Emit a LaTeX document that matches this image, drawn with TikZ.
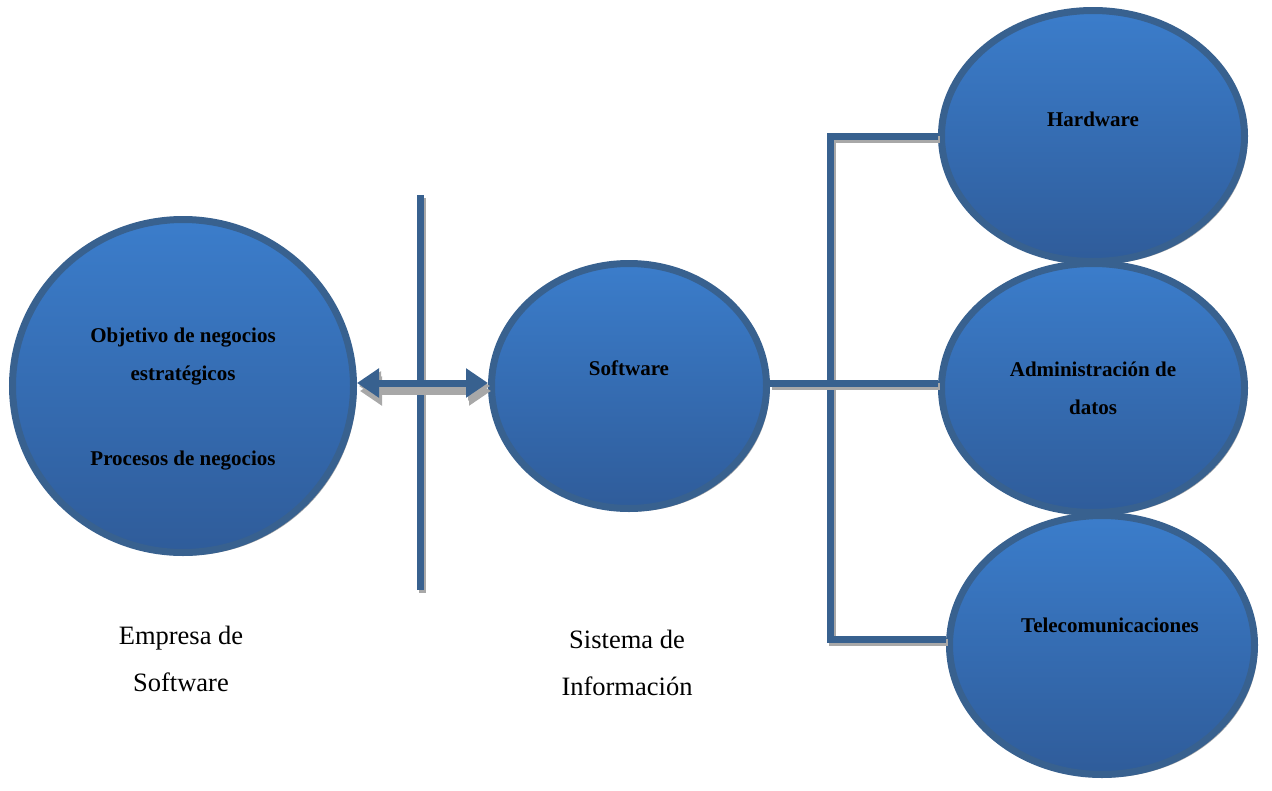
\documentclass[tikz,border=0pt]{standalone}
\usepackage{fontspec}
\setmainfont{Liberation Serif}
\usetikzlibrary{shapes.geometric,shadows,arrows.meta,calc}
\definecolor{topblue}{HTML}{3B7DCB}
\definecolor{botblue}{HTML}{2F5C9A}
\definecolor{edgeblue}{HTML}{38618F}
\definecolor{shadowgray}{HTML}{A8A8A8}
\tikzset{
  bubble/.style={ellipse, draw=edgeblue, line width=7pt, top color=topblue, bottom color=botblue,
    drop shadow={shadow xshift=3pt, shadow yshift=-3pt, fill=shadowgray, opacity=1}, inner sep=0pt},
  btxt/.style={font=\bfseries\fontsize{21}{38}\selectfont, align=center, text=black},
  rtxt/.style={font=\fontsize{26.5}{47}\selectfont, align=center, text=black},
  conn/.style={draw=edgeblue, line width=7pt, line join=miter,
    preaction={draw=shadowgray, line width=7pt, transform canvas={shift={(2,3)}}}},
}
\begin{document}
\begin{tikzpicture}[x=1pt,y=-1pt]
\useasboundingbox (0,0) rectangle (1272,790);
% bubbles
\node[bubble, minimum width=341pt, minimum height=333pt] (L) at (183,386) {};
\node[bubble, minimum width=275pt, minimum height=245pt] (S) at (629,386) {};
\node[bubble, minimum width=303pt, minimum height=251pt] (H) at (1093,136) {};
\node[bubble, minimum width=303pt, minimum height=249pt] (A) at (1093,388) {};
\node[bubble, minimum width=305pt, minimum height=259pt] (T) at (1102,645) {};
% texts
\node[btxt] (Lt1) at (183,357) {Objetivo de negocios\\estratégicos};
\node[btxt] (Lt2) at (183,461) {Procesos de negocios};
\node[btxt] (St) at ([yshift=18pt]S.center) {Software};
\node[btxt] (Ht) at ([yshift=17pt]H.center) {Hardware};
\node[btxt] (At) at (A.center) {Administración de\\datos};
\node[btxt] (Tt) at ([xshift=8pt,yshift=20pt]T.center) {Telecomunicaciones};
\node[rtxt] (E) at (181,659) {Empresa de\\Software};
\node[rtxt] (SI) at (627,663) {Sistema de\\Información};
% divider
\coordinate (vt) at (420,195);
\coordinate (vb) at (420,590);
\draw[conn] (vt) -- (vb);
% double arrow
\draw[conn, line width=7pt, {Triangle[length=22pt,width=28pt]}-{Triangle[length=22pt,width=28pt]},
  preaction={draw=shadowgray, line width=7pt, transform canvas={shift={(3,8)}}}] (L.east |- 0,383) -- (S.west |- 0,383);
% bracket
\coordinate (bt) at (830,136);
\coordinate (bb) at (830,639);
\draw[conn] (H.west) -| (bb) -- (T.west |- bb);
\draw[conn] (S.east |- 0,383) -- (A.west |- 0,383);
\end{tikzpicture}
\end{document}
